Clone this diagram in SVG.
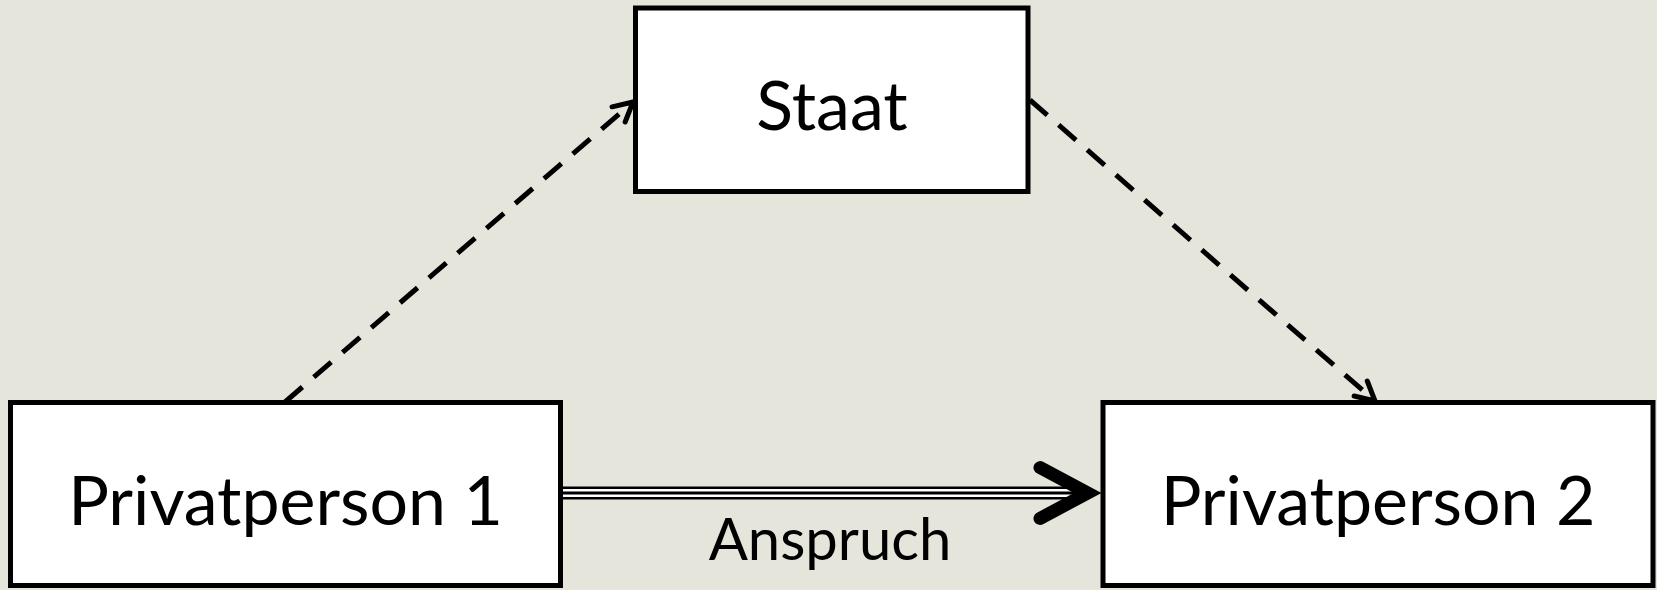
<svg xmlns="http://www.w3.org/2000/svg" width="1657" height="590" viewBox="0 0 1657 590">
<style>
.box{fill:#fff;stroke:#000;stroke-width:5}
.lbl{font-family:Lato,"Open Sans","Liberation Sans",sans-serif;font-size:68px;fill:#000;text-anchor:middle}
.dash{fill:none;stroke:#000;stroke-width:5;stroke-dasharray:23 15}
</style>
<defs>
<marker id="open" markerUnits="userSpaceOnUse" viewBox="-26 -15 30 30" refX="0" refY="0" markerWidth="30" markerHeight="30" orient="auto">
<path d="M-19,-10 L0,0 L-19,10" fill="none" stroke="#000" stroke-width="5" stroke-linecap="round" stroke-linejoin="round"/>
</marker>
</defs>
<rect width="1657" height="590" fill="#e5e5dc"/>
<g id="connectors">
<path class="dash" d="M285,402 L633,102" marker-end="url(#open)"/>
<path class="dash" d="M1030,100 L1375,401" marker-end="url(#open)"/>
<g id="anspruch">
<line x1="560" y1="493" x2="1080" y2="493" stroke="#000" stroke-width="13"/>
<line x1="560" y1="493" x2="1080" y2="493" stroke="#fff" stroke-width="8"/>
<line x1="560" y1="493" x2="1080" y2="493" stroke="#000" stroke-width="3"/>
<path d="M1040,467.6 L1087.7,493 L1040,518.4" fill="none" stroke="#000" stroke-width="13" stroke-linecap="round" stroke-linejoin="miter"/>
<text class="lbl" x="830" y="560" style="font-size:58px">Anspruch</text>
</g>
</g>
<g id="staat">
<rect class="box" x="635.5" y="8" width="392.5" height="183.5"/>
<text class="lbl" x="832" y="130">Staat</text>
</g>
<g id="privatperson1">
<rect class="box" x="10.5" y="402.5" width="550" height="183"/>
<text class="lbl" x="285.5" y="525">Privatperson 1</text>
</g>
<g id="privatperson2">
<rect class="box" x="1103" y="402.5" width="550" height="183"/>
<text class="lbl" x="1378" y="525">Privatperson 2</text>
</g>
</svg>
